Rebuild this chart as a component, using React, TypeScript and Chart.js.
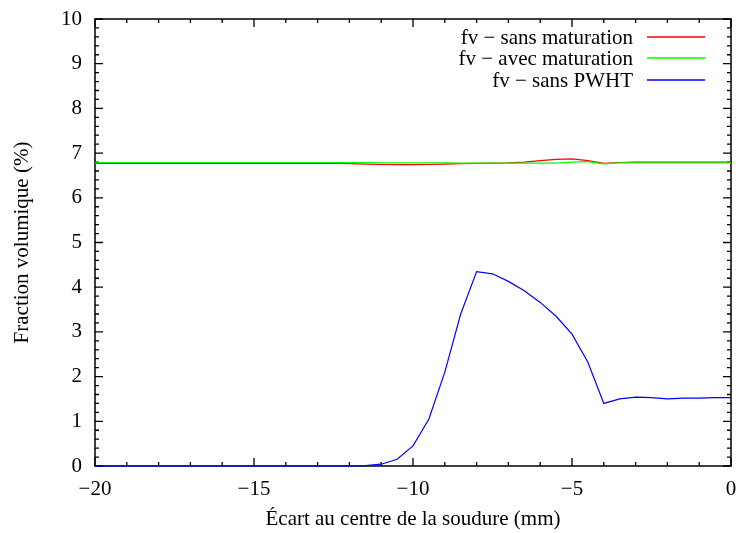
import React, { useEffect, useRef } from "react";
import { Chart, registerables } from "chart.js";

Chart.register(...registerables);

const xValues = [
  -20, -19.5, -19, -18.5, -18, -17.5, -17, -16.5, -16, -15.5, -15, -14.5, -14, -13.5,
  -13, -12.5, -12, -11.5, -11, -10.5, -10, -9.5, -9, -8.5, -8, -7.5, -7, -6.5, -6,
  -5.5, -5, -4.5, -4, -3.5, -3, -2.5, -2, -1.5, -1, -0.5, 0,
];

const sansMaturation = [
  6.77, 6.77, 6.77, 6.77, 6.77, 6.77, 6.77, 6.77, 6.77, 6.77, 6.77, 6.77, 6.77, 6.77,
  6.77, 6.77, 6.765, 6.755, 6.745, 6.74, 6.74, 6.745, 6.755, 6.765, 6.77, 6.775, 6.78, 6.8, 6.83,
  6.86, 6.87, 6.83, 6.77, 6.79, 6.8, 6.8, 6.8, 6.8, 6.8, 6.8, 6.8,
];

const avecMaturation = [
  6.79, 6.79, 6.79, 6.79, 6.79, 6.79, 6.79, 6.79, 6.79, 6.79, 6.79, 6.79, 6.79, 6.79,
  6.79, 6.79, 6.785, 6.785, 6.78, 6.78, 6.78, 6.78, 6.78, 6.775, 6.775, 6.775, 6.775, 6.775, 6.775,
  6.775, 6.8, 6.81, 6.76, 6.78, 6.78, 6.78, 6.78, 6.78, 6.78, 6.78, 6.78,
];

const sansPWHT = [
  0, 0, 0, 0, 0, 0, 0, 0, 0, 0, 0, 0, 0, 0,
  0, 0, 0, 0.01, 0.04, 0.15, 0.45, 1.05, 2.1, 3.4, 4.35, 4.3, 4.13, 3.92, 3.66,
  3.35, 2.95, 2.32, 1.4, 1.5, 1.54, 1.53, 1.5, 1.52, 1.52, 1.53, 1.53,
];

const seriesLabels = ["fv \u2212 sans maturation", "fv \u2212 avec maturation", "fv \u2212 sans PWHT"];
const seriesColors = ["#ff0000", "#00ff00", "#0000ff"];
const xTitle = "\u00c9cart au centre de la soudure (mm)";
const yTitle = "Fraction volumique (%)";

const FONT = "'Liberation Serif', 'Times New Roman', serif";
const FS = 21;

const toPoints = (ys: number[]) => xValues.map((x, i) => ({ x, y: ys[i] }));

const framePlugin = {
  id: "frame",
  beforeDatasetsDraw(chart: any) {
    const ctx = chart.ctx as CanvasRenderingContext2D;
    const ca = chart.chartArea;
    const L = Math.round(ca.left);
    const R = Math.round(ca.right);
    const T = Math.round(ca.top);
    const B = Math.round(ca.bottom);
    const xs = chart.scales.x;
    const ys = chart.scales.y;
    ctx.save();
    ctx.strokeStyle = "#000000";
    ctx.lineWidth = 1.3;
    ctx.beginPath();
    for (let v = -20; v <= 0; v += 1) {
      const px = xs.getPixelForValue(v);
      const len = Math.abs(v % 5) === 0 ? 8 : 4;
      ctx.moveTo(px, B);
      ctx.lineTo(px, B - len);
      ctx.moveTo(px, T);
      ctx.lineTo(px, T + len);
    }
    for (let k = 0; k <= 50; k++) {
      const py = ys.getPixelForValue(k * 0.2);
      const len = k % 5 === 0 ? 8 : 4;
      ctx.moveTo(L, py);
      ctx.lineTo(L + len, py);
      ctx.moveTo(R, py);
      ctx.lineTo(R - len, py);
    }
    ctx.stroke();
    ctx.lineWidth = 1.5;
    ctx.beginPath();
    ctx.rect(L, T, R - L, B - T);
    ctx.stroke();

    // legend
    ctx.font = `${FS}px ${FONT}`;
    ctx.textAlign = "right";
    ctx.textBaseline = "middle";
    const rows = [37, 58, 80];
    for (let i = 0; i < seriesLabels.length; i++) {
      ctx.fillStyle = "#000000";
      ctx.fillText(seriesLabels[i], 633, rows[i] + 1);
      ctx.strokeStyle = seriesColors[i];
      ctx.lineWidth = 1.3;
      ctx.beginPath();
      ctx.moveTo(647, rows[i]);
      ctx.lineTo(705, rows[i]);
      ctx.stroke();
    }
    ctx.restore();
  },
};

export default function App() {
  const ref = useRef<HTMLCanvasElement>(null);
  useEffect(() => {
    if (!ref.current) return;
    const chart = new Chart(ref.current, {
      type: "line",
      data: {
        datasets: [
          { label: seriesLabels[0], data: toPoints(sansMaturation), borderColor: seriesColors[0], borderWidth: 1.2, pointRadius: 0, order: 2, clip: false },
          { label: seriesLabels[1], data: toPoints(avecMaturation), borderColor: seriesColors[1], borderWidth: 1.2, pointRadius: 0, order: 1, clip: false },
          { label: seriesLabels[2], data: toPoints(sansPWHT), borderColor: seriesColors[2], borderWidth: 1.2, pointRadius: 0, order: 0, clip: false },
        ],
      },
      options: {
        responsive: false,
        animation: false,
        layout: { padding: { top: 19, right: 8, left: 0, bottom: 0 } },
        plugins: { legend: { display: false }, tooltip: { enabled: false } },
        scales: {
          x: {
            type: "linear",
            min: -20,
            max: 0,
            afterFit: (s: any) => { s.height = 67; s.paddingLeft = 0; s.paddingRight = 0; },
            grid: { display: false, drawTicks: false },
            border: { display: false },
            ticks: {
              stepSize: 5,
              padding: 11,
              color: "#000",
              font: { family: FONT, size: FS },
              maxRotation: 0,
              callback: (v: any) => String(v).replace("-", "\u2212"),
            },
            title: { display: true, text: xTitle, color: "#000", font: { family: FONT, size: FS }, padding: { top: 0, bottom: 1 } },
          },
          y: {
            min: 0,
            max: 10,
            afterFit: (s: any) => { s.width = 95; s.paddingTop = 0; s.paddingBottom = 0; },
            grid: { display: false, drawTicks: false },
            border: { display: false },
            ticks: {
              stepSize: 1,
              padding: 13,
              color: "#000",
              font: { family: FONT, size: FS },
            },
            title: { display: true, text: yTitle, color: "#000", font: { family: FONT, size: FS }, padding: { top: 10, bottom: 0 } },
          },
        },
      },
      plugins: [framePlugin],
    });
    return () => chart.destroy();
  }, []);
  return (
    <div style={{ position: "absolute", left: 0, top: 0, width: 739, height: 533, background: "#fff" }}>
      <canvas ref={ref} width={739} height={533} />
    </div>
  );
}
